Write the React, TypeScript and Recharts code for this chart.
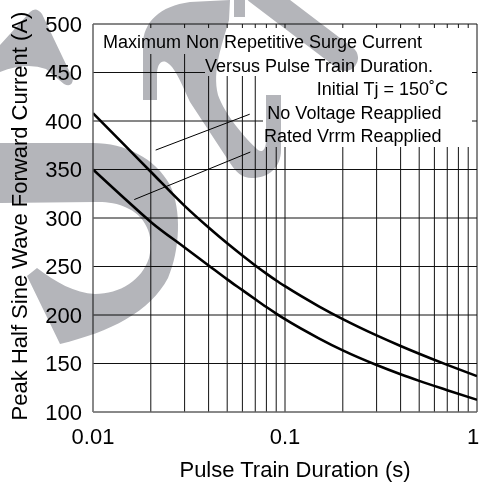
import React from 'react';
import { LineChart, Line, XAxis, YAxis, CartesianGrid, ReferenceLine } from 'recharts';

// ---- data ----
const pulseTimes = [0.01, 0.015, 0.02, 0.03, 0.04, 0.05, 0.06, 0.07, 0.08, 0.09, 0.1, 0.15, 0.2, 0.3, 0.4, 0.5, 0.7, 1];
const noVoltageReapplied = [408, 372.8, 347.7, 312.5, 290.2, 273.9, 261.3, 251.1, 242.7, 235.6, 229.7, 209, 195.8, 179, 168.1, 160.1, 148.6, 137];
const ratedVrrmReapplied = [350, 318, 296, 269.6, 251.1, 236.7, 225.6, 216.2, 208.2, 201.5, 195.7, 176, 163.5, 148.4, 138.9, 132.1, 122.5, 112.6];

const xGridTicks = [0.01, 0.02, 0.03, 0.04, 0.05, 0.06, 0.07, 0.08, 0.09, 0.1, 0.2, 0.3, 0.4, 0.5, 0.6, 0.7, 0.8, 0.9, 1];
const xLabelTicks = [0.01, 0.1, 1];
const yTicks = [100, 150, 200, 250, 300, 350, 400, 450, 500];

const pointerNoVoltage = [{ x: 0.0212, y: 370 }, { x: 0.0655, y: 407 }];
const pointerRated = [{ x: 0.0164, y: 319 }, { x: 0.066, y: 368 }];

const annotationLines = [
  'Maximum Non Repetitive Surge Current',
  'Versus Pulse Train Duration.',
  'Initial Tj = 150˚C',
  'No Voltage Reapplied',
  'Rated Vrrm Reapplied',
];

const data = pulseTimes.map((t, i) => ({ t, nv: noVoltageReapplied[i], rv: ratedVrrmReapplied[i] }));

const FONT = '"Liberation Sans", Arial, Helvetica, sans-serif';
const W = 480;
const H = 483;

function XTick(props: any) {
  const { x, y, payload } = props;
  const v = payload.value;
  if (!xLabelTicks.includes(v)) return null;
  const isLast = v === xLabelTicks[xLabelTicks.length - 1];
  return (
    <text x={isLast ? x - 4 : x} y={y} dy="0.71em" textAnchor="middle" fontSize={22} fill="#000" fontFamily={FONT}>
      {String(v)}
    </text>
  );
}

export default function App() {
  return (
    <div style={{ position: 'absolute', left: 0, top: 0, width: W, height: H, background: '#fff', overflow: 'hidden', fontFamily: FONT }}>
      <LineChart width={W} height={H} data={data} margin={{ top: 24, right: 3, bottom: 0, left: 0 }}>
        <CartesianGrid stroke="#111" strokeWidth={1} />
        <XAxis
          dataKey="t"
          type="number"
          scale="log"
          domain={[0.01, 1]}
          allowDataOverflow
          ticks={xGridTicks}
          interval={0}
          height={71}
          tickLine={false}
          tickSize={0}
          tickMargin={16}
          axisLine={{ stroke: '#8a8a8a' }}
          tick={<XTick />}
          label={{ value: 'Pulse Train Duration (s)', position: 'center', dx: 10, dy: 22, style: { fontSize: 22, fill: '#000', fontFamily: FONT } }}
        />
        <YAxis
          type="number"
          domain={[100, 500]}
          ticks={yTicks}
          interval={0}
          width={93}
          tickLine={false}
          tickSize={0}
          tickMargin={11}
          axisLine={{ stroke: '#8a8a8a' }}
          tick={{ fontSize: 22, fill: '#000', fontFamily: FONT }}
          label={{ value: 'Peak Half Sine Wave Forward Current (A)', angle: -90, position: 'center', dx: -27, dy: -2, style: { fontSize: 22, fill: '#000', fontFamily: FONT, textAnchor: 'middle' } }}
        />
        <ReferenceLine segment={pointerNoVoltage} stroke="#000" strokeWidth={1} ifOverflow="visible" />
        <ReferenceLine segment={pointerRated} stroke="#000" strokeWidth={1} ifOverflow="visible" />
        <Line type="monotone" dataKey="nv" stroke="#000" strokeWidth={2.6} dot={false} isAnimationActive={false} />
        <Line type="monotone" dataKey="rv" stroke="#000" strokeWidth={2.6} dot={false} isAnimationActive={false} />
      </LineChart>

      {/* annotation text block */}
      <svg width={W} height={H} style={{ position: 'absolute', left: 0, top: 0, pointerEvents: 'none' }}>
        <rect x={97} y={28} width={375} height={26} fill="#fff" />
        <rect x={205} y={54} width={267} height={22} fill="#fff" />
        <rect x={263} y={76} width={209} height={71} fill="#fff" />
        <g fontFamily={FONT} fontSize={18} fill="#000">
          <text x={103} y={48}>{annotationLines[0]}</text>
          <text x={433} y={71.5} textAnchor="end">{annotationLines[1]}</text>
          <text x={448} y={95} textAnchor="end">{annotationLines[2]}</text>
          <text x={441.5} y={118.5} textAnchor="end">{annotationLines[3]}</text>
          <text x={441.5} y={142} textAnchor="end">{annotationLines[4]}</text>
        </g>
      </svg>

      {/* grey watermark */}
      <svg width={W} height={H} style={{ position: 'absolute', left: 0, top: 0, pointerEvents: 'none', mixBlendMode: 'multiply' }}>
        <g fill="#b4b5ba">
          <path d="M0,143 L93,143 C125,143 155,158 170,185 C182,210 180,250 168,278 C150,312 110,332 60,344 L27,276 L37,268 C55,282 75,293 95,294 C120,294 142,280 149,258 C155,235 145,215 125,207 C113,202 105,202 95,202 L0,203 Z" />
          <path d="M0,45 L30,12 Q36,6 42,14 L73,79 Q72,88 64,84 L46,69 Q26,62 0,72 Z" />
          <path d="M143,100 L143,45 C143,22 160,6 190,2 L230,0 L229,20 C222,45 212,70 218,95 C225,115 245,138 258,150 C262,153 266,150 266,140 L266,95 L281,95 L281,150 C281,168 268,178 252,178 C242,178 236,172 230,163 L190,102 C182,85 175,66 166,62 C160,60 157,66 157,75 L157,100 Z" />
          <rect x={234} y={0} width={11} height={17} />
        </g>
        <path d="M258,-8 L345,58" stroke="#b4b5ba" strokeWidth={26} strokeLinecap="round" fill="none" />
      </svg>
    </div>
  );
}
